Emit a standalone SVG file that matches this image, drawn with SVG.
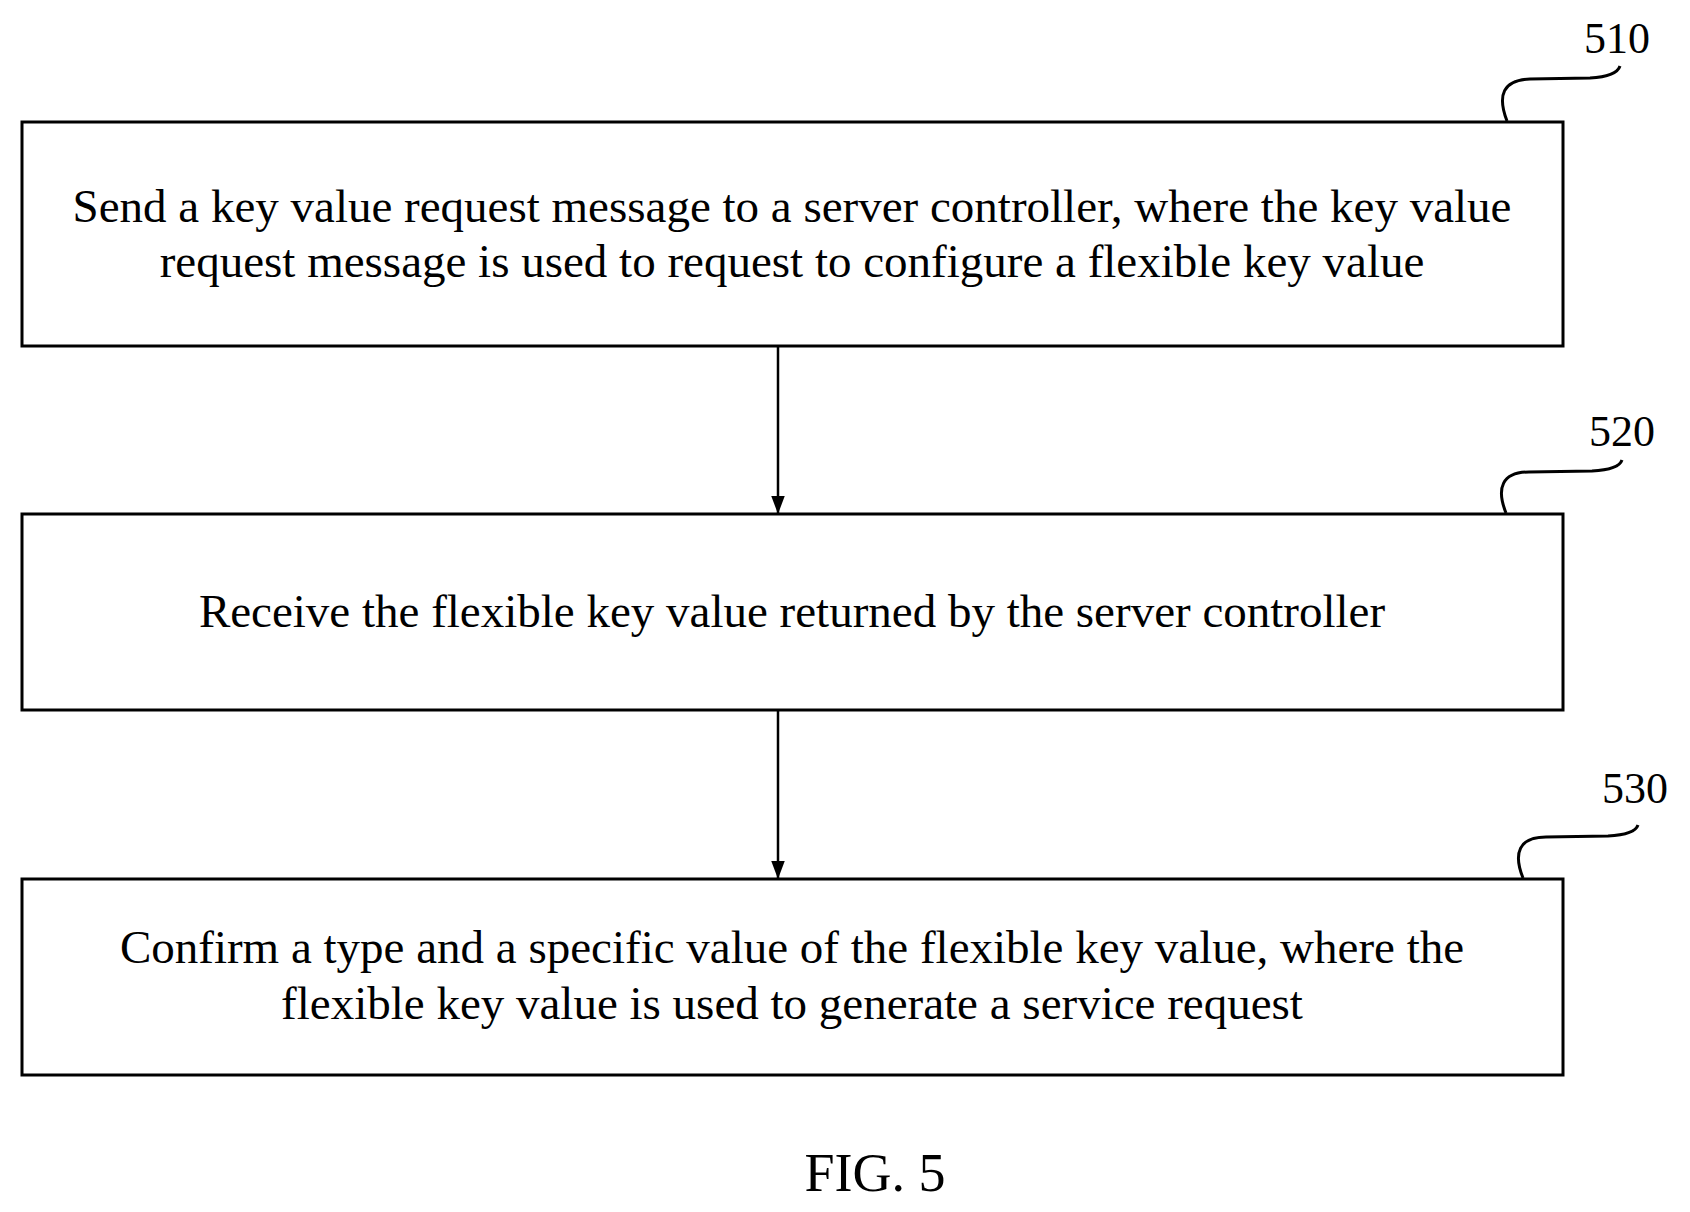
<svg xmlns="http://www.w3.org/2000/svg" width="1690" height="1212" viewBox="0 0 1690 1212">
<style>
.b{fill:#fff;stroke:#000;stroke-width:3}
.t{font-family:"Liberation Serif",serif;font-size:47px;text-anchor:middle;fill:#000}
.n{font-family:"Liberation Serif",serif;font-size:44px;text-anchor:middle;fill:#000}
.c{fill:none;stroke:#000;stroke-width:3}
</style>
<defs><marker id="a" markerWidth="18" markerHeight="24" refX="24" refY="9" orient="auto" markerUnits="userSpaceOnUse" viewBox="0 0 24 18"><path d="M0,0 L24,9 L0,18z"/></marker></defs>
<rect width="1690" height="1212" fill="#fff"/>
<g id="n510"><rect class="b" x="22" y="122" width="1541" height="224"/>
<text class="t" x="792" y="222">Send a key value request message to a server controller, where the key value</text>
<text class="t" x="792" y="277">request message is used to request to configure a flexible key value</text>
<text class="n" x="1617" y="53">510</text>
<path class="c" d="M1507,121 C1497,95 1503,80 1530,79 L1590,78 C1610,77 1618,72 1620,66"/></g>
<g id="n520"><rect class="b" x="22" y="514" width="1541" height="196"/>
<text class="t" x="792" y="627">Receive the flexible key value returned by the server controller</text>
<text class="n" x="1622" y="446">520</text>
<path class="c" d="M1506,513 C1496,488 1502,472 1529,472 L1592,471 C1612,470 1620,466 1622,460"/></g>
<g id="n530"><rect class="b" x="22" y="879" width="1541" height="196"/>
<text class="t" x="792" y="963">Confirm a type and a specific value of the flexible key value, where the</text>
<text class="t" x="792" y="1019">flexible key value is used to generate a service request</text>
<text class="n" x="1635" y="803">530</text>
<path class="c" d="M1523,878 C1513,853 1519,837 1546,837 L1608,836 C1628,835 1636,831 1638,825"/></g>
<g id="connectors">
<line class="c" x1="778" y1="346" x2="778" y2="514" marker-end="url(#a)" style="stroke-width:2.5"/>
<line class="c" x1="778" y1="710" x2="778" y2="879" marker-end="url(#a)" style="stroke-width:2.5"/>
</g>
<text x="875" y="1191" style="font-family:'Liberation Serif',serif;font-size:54px;text-anchor:middle">FIG. 5</text>
</svg>
